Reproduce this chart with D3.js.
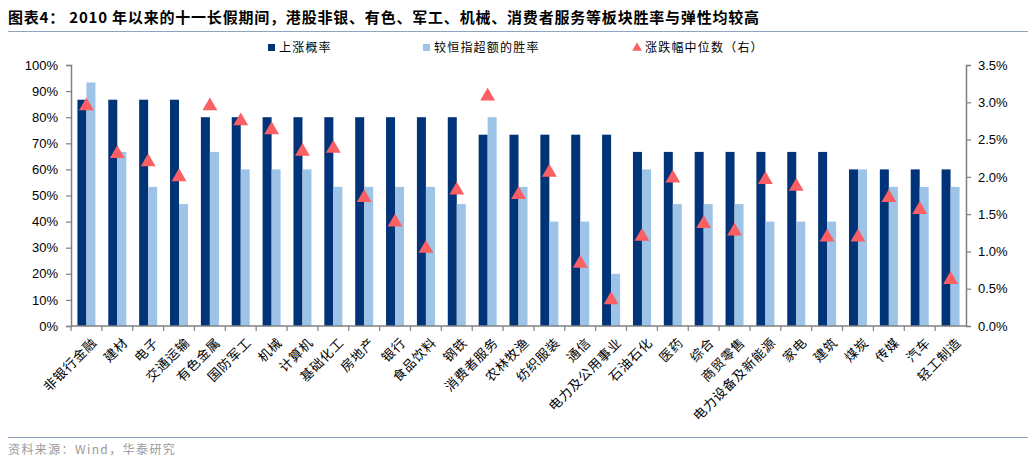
<!DOCTYPE html>
<html>
<head>
<meta charset="utf-8">
<script src="https://cdn.jsdelivr.net/npm/d3@7"></script>
<style>
  body { margin: 0; background: #fff; }
  svg { display: block; }
</style>
</head>
<body>
<svg id="chart" width="1032" height="464"></svg>
<script>
var sectors = ["非银行金融", "建材", "电子", "交通运输", "有色金属", "国防军工", "机械", "计算机", "基础化工", "房地产",
  "银行", "食品饮料", "钢铁", "消费者服务", "农林牧渔", "纺织服装", "通信", "电力及公用事业", "石油石化", "医药",
  "综合", "商贸零售", "电力设备及新能源", "家电", "建筑", "煤炭", "传媒", "汽车", "轻工制造"];

// 上涨概率 (%)
var riseProb = [86.7, 86.7, 86.7, 86.7, 80, 80, 80, 80, 80, 80,
  80, 80, 80, 73.3, 73.3, 73.3, 73.3, 73.3, 66.7, 66.7,
  66.7, 66.7, 66.7, 66.7, 66.7, 60, 60, 60, 60];

// 较恒指超额的胜率 (%)
var beatHsi = [93.3, 66.7, 53.3, 46.7, 66.7, 60, 60, 60, 53.3, 53.3,
  53.3, 53.3, 46.7, 80, 53.3, 40, 40, 20, 60, 46.7,
  46.7, 46.7, 40, 40, 40, 60, 53.3, 53.3, 53.3];

// 涨跌幅中位数 (%), right axis
var medianRet = [2.95, 2.31, 2.20, 2.00, 2.95, 2.75, 2.63, 2.34, 2.38, 1.72,
  1.39, 1.04, 1.82, 3.08, 1.76, 2.06, 0.84, 0.35, 1.20, 1.98,
  1.37, 1.27, 1.96, 1.87, 1.19, 1.19, 1.72, 1.56, 0.62];

var leftTicks = [0, 10, 20, 30, 40, 50, 60, 70, 80, 90, 100];
var rightTicks = [0, 0.5, 1, 1.5, 2, 2.5, 3, 3.5];

var darkBlue = "#003378",
    lightBlue = "#9dc3e6",
    red = "#fa5f63",
    axisGray = "#808080",
    lineColor = "#8fa5bf";

var svg = d3.select("#chart"),
    margin = { top: 65, right: 66, bottom: 138, left: 71 },
    width = 1032 - margin.left - margin.right,
    height = 464 - margin.top - margin.bottom;

var cjk = "'Noto Sans CJK SC', sans-serif";
var latin = "'Liberation Sans', Arial, sans-serif";

// title and separator lines
svg.append("text")
    .attr("x", 8).attr("y", 23)
    .style("font", "bold 15px " + cjk)
    .style("letter-spacing", "0.8px")
    .attr("fill", "#000")
    .text("图表4：  2010 年以来的十一长假期间，港股非银、有色、军工、机械、消费者服务等板块胜率与弹性均较高");

svg.append("line").attr("x1", 8).attr("x2", 1028).attr("y1", 31.5).attr("y2", 31.5)
    .attr("stroke", lineColor).attr("stroke-width", 1.2);
svg.append("line").attr("x1", 8).attr("x2", 1028).attr("y1", 437.5).attr("y2", 437.5)
    .attr("stroke", lineColor).attr("stroke-width", 1.2);

svg.append("text")
    .attr("x", 8).attr("y", 454)
    .style("font", "12px " + cjk)
    .style("letter-spacing", "1.4px")
    .attr("fill", "#9a9a9a")
    .text("资料来源：Wind，华泰研究");

var g = svg.append("g").attr("transform", "translate(" + margin.left + "," + margin.top + ")");

var x = d3.scaleBand().domain(sectors).range([0, width]);
var yL = d3.scaleLinear().domain([0, 100]).range([height, 0]);
var yR = d3.scaleLinear().domain([0, 3.5]).range([height, 0]);

var barW = 9;

// bars
g.selectAll(".bar-rise")
    .data(sectors)
    .enter().append("rect")
    .attr("class", "bar-rise")
    .attr("x", function(d) { return x(d) + x.bandwidth() / 2 - barW; })
    .attr("y", function(d, i) { return yL(riseProb[i]); })
    .attr("width", barW)
    .attr("height", function(d, i) { return height - yL(riseProb[i]); })
    .attr("fill", darkBlue);

g.selectAll(".bar-beat")
    .data(sectors)
    .enter().append("rect")
    .attr("class", "bar-beat")
    .attr("x", function(d) { return x(d) + x.bandwidth() / 2; })
    .attr("y", function(d, i) { return yL(beatHsi[i]); })
    .attr("width", barW)
    .attr("height", function(d, i) { return height - yL(beatHsi[i]); })
    .attr("fill", lightBlue);

// axes
var axL = g.append("g")
    .call(d3.axisLeft(yL).tickValues(leftTicks).tickSize(5).tickPadding(8)
      .tickFormat(function(d) { return d + "%"; }));
var axR = g.append("g")
    .attr("transform", "translate(" + width + ",0)")
    .call(d3.axisRight(yR).tickValues(rightTicks).tickSize(5).tickPadding(7)
      .tickFormat(function(d) { return d.toFixed(1) + "%"; }));
[axL, axR].forEach(function(a) {
  a.select(".domain").attr("stroke", axisGray).attr("stroke-width", 1.5);
  a.selectAll(".tick line").attr("stroke", axisGray).attr("stroke-width", 1.2);
  a.selectAll(".tick text").style("font", "13px " + latin).attr("fill", "#000");
});

// x axis with ticks at band boundaries
var axX = g.append("g").attr("transform", "translate(0," + height + ")");
axX.append("line").attr("x1", 0).attr("x2", width).attr("stroke", axisGray).attr("stroke-width", 1.5);
axX.selectAll(".xt")
    .data(sectors)
    .enter().append("line")
    .attr("class", "xt")
    .attr("x1", function(d) { return x(d); })
    .attr("x2", function(d) { return x(d); })
    .attr("y1", 0).attr("y2", 5)
    .attr("stroke", axisGray).attr("stroke-width", 1.2);
axX.selectAll(".xl")
    .data(sectors)
    .enter().append("text")
    .attr("class", "xl")
    .attr("transform", function(d) {
      return "translate(" + (x(d) + x.bandwidth() / 2 + 5) + ",11) rotate(-45)";
    })
    .attr("text-anchor", "end")
    .attr("dy", "0.7em")
    .style("font", "13px " + cjk)
    .style("letter-spacing", "0.8px")
    .attr("fill", "#000")
    .text(function(d) { return d; });

// triangles for median return
var tri = d3.symbol().type(d3.symbolTriangle).size(95);
g.selectAll(".tri")
    .data(sectors)
    .enter().append("path")
    .attr("class", "tri")
    .attr("d", tri)
    .attr("transform", function(d, i) {
      return "translate(" + (x(d) + x.bandwidth() / 2) + "," + yR(medianRet[i]) + ")";
    })
    .attr("fill", red);

// legend
var legend = [
  { name: "上涨概率", x: 268, kind: "rect", color: darkBlue },
  { name: "较恒指超额的胜率", x: 423, kind: "rect", color: lightBlue },
  { name: "涨跌幅中位数（右）", x: 633, kind: "tri", color: red }
];
var lg = svg.selectAll(".lg").data(legend).enter().append("g").attr("class", "lg")
    .attr("transform", function(d) { return "translate(" + d.x + ",48)"; });
lg.each(function(d) {
  var s = d3.select(this);
  if (d.kind == "rect") {
    s.append("rect").attr("x", 0).attr("y", -4).attr("width", 7).attr("height", 7).attr("fill", d.color);
  } else {
    s.append("path").attr("d", d3.symbol().type(d3.symbolTriangle).size(40))
      .attr("transform", "translate(4,0)").attr("fill", d.color);
  }
  s.append("text").attr("x", d.kind == "rect" ? 11 : 12).attr("y", 0).attr("dy", "0.36em")
    .style("font", "12px " + cjk)
    .style("letter-spacing", "1.2px")
    .attr("fill", "#000").text(d.name);
});
</script>
</body>
</html>
